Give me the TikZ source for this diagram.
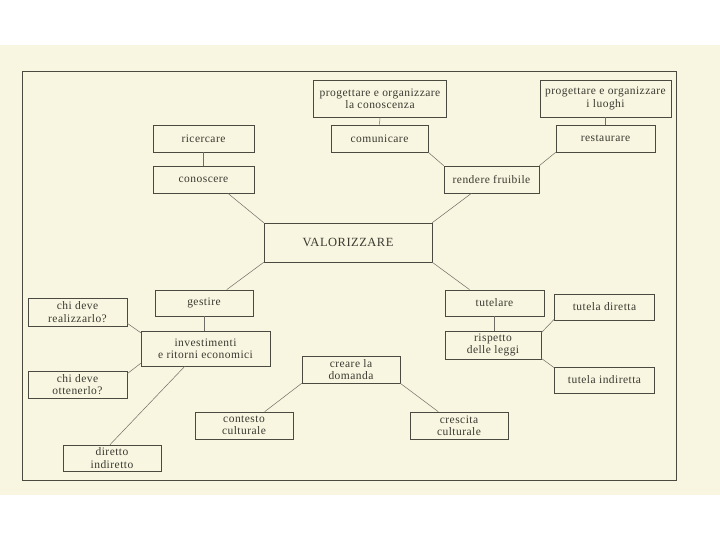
\documentclass[tikz,border=0pt]{standalone}
\usepackage{fontspec}
\setmainfont{Liberation Serif}[LetterSpace=4]
\usetikzlibrary{calc}
\definecolor{page}{HTML}{F8F6E0}
\definecolor{ink}{HTML}{4A4A40}
\definecolor{txt}{HTML}{3A3A32}
\tikzset{
  box/.style={draw=ink, line width=0.7pt, fill=page, inner sep=1pt, align=center,
    text=txt, font=\fontsize{11.5}{12.3}\selectfont},
  link/.style={draw=ink!80, line width=0.5pt},
  frame/.style={draw=ink, line width=0.7pt}
}
\begin{document}
\begin{tikzpicture}[x=1pt,y=-1pt]
\useasboundingbox (0,0) rectangle (720,540);
\fill[white] (0,0) rectangle (720,540);
\fill[page] (0,45) rectangle (720,495);
\draw[frame] (22,71) rectangle (676,480);

\node[box, minimum width=133, minimum height=37] (pk) at (380,98.5) {progettare e organizzare\\la conoscenza};
\node[box, minimum width=131, minimum height=37] (pl) at (605.5,98.5) {progettare e organizzare\\i luoghi};
\node[box, minimum width=101, minimum height=27] (ric) at (203.5,138.5) {ricercare};
\node[box, minimum width=97, minimum height=27] (com) at (379.5,138.5) {comunicare};
\node[box, minimum width=99, minimum height=27] (res) at (605.5,138.5) {restaurare};
\node[box, minimum width=101, minimum height=27] (con) at (203.5,179.5) {conoscere};
\node[box, minimum width=95, minimum height=27] (ren) at (491.5,179.5) {rendere fruibile};
\node[box, minimum width=168, minimum height=39, font=\fontsize{12.5}{12.5}\selectfont] (val) at (348,242.5) {VALORIZZARE};
\node[box, minimum width=98, minimum height=26] (ges) at (204,303) {gestire};
\node[box, minimum width=99, minimum height=26] (tut) at (494.5,303) {tutelare};
\node[box, minimum width=100, minimum height=26] (tdir) at (604.5,307) {tutela diretta};
\node[box, minimum width=99, minimum height=28] (chir) at (77.5,312) {chi deve\\realizzarlo?};
\node[box, minimum width=129, minimum height=35] (inv) at (205.5,348.5) {investimenti\\e ritorni economici};
\node[box, minimum width=96, minimum height=28] (risp) at (493,345) {rispetto\\delle leggi};
\node[box, minimum width=98, minimum height=27] (crea) at (351,369.5) {creare la\\domanda};
\node[box, minimum width=99, minimum height=27] (chio) at (77.5,384.5) {chi deve\\ottenerlo?};
\node[box, minimum width=100, minimum height=26] (tind) at (604.5,380) {tutela indiretta};
\node[box, minimum width=98, minimum height=27] (cont) at (244,425.5) {contesto\\culturale};
\node[box, minimum width=98, minimum height=27] (cres) at (459,425.5) {crescita\\culturale};
\node[box, minimum width=98, minimum height=26] (dir) at (112,458) {diretto\\indiretto};

\draw[link] (ric.south) -- (con.north);
\draw[link] (pk.south) -- (com.north);
\draw[link] (pl.south) -- (res.north);
\draw[link] (com.south east) -- (ren.north west);
\draw[link] (res.south west) -- (ren.north east);
\draw[link] ($(con.south west)!0.74!(con.south east)$) -- (val.north west);
\draw[link] ($(ren.south west)!0.29!(ren.south east)$) -- (val.north east);
\draw[link] (val.south west) -- ($(ges.north west)!0.73!(ges.north east)$);
\draw[link] ($(val.south west)!0.49!(val.south east)$) -- ($(val.south west)!0.49!(val.south east)$ |- crea.north);
\draw[link] (val.south east) -- ($(tut.north west)!0.25!(tut.north east)$);
\draw[link] (ges.south) -- (ges.south |- inv.north);
\draw[link] ($(chir.south east)+(0,-3)$) -- ($(inv.north west)+(0,2)$);
\draw[link] ($(chio.north east)+(0,3)$) -- ($(inv.south west)+(0,-3)$);
\draw[link] ($(inv.south west)!0.34!(inv.south east)$) -- ($(dir.north west)!0.48!(dir.north east)$);
\draw[link] (tut.south) -- (tut.south |- risp.north);
\draw[link] ($(risp.north east)+(0,2)$) -- ($(tdir.south west)+(0,-1)$);
\draw[link] ($(risp.south east)+(0,-1)$) -- ($(tind.north west)+(0,1)$);
\draw[link] (crea.south west) -- ($(cont.north west)!0.71!(cont.north east)$);
\draw[link] (crea.south east) -- ($(cres.north west)!0.29!(cres.north east)$);
\end{tikzpicture}
\end{document}
